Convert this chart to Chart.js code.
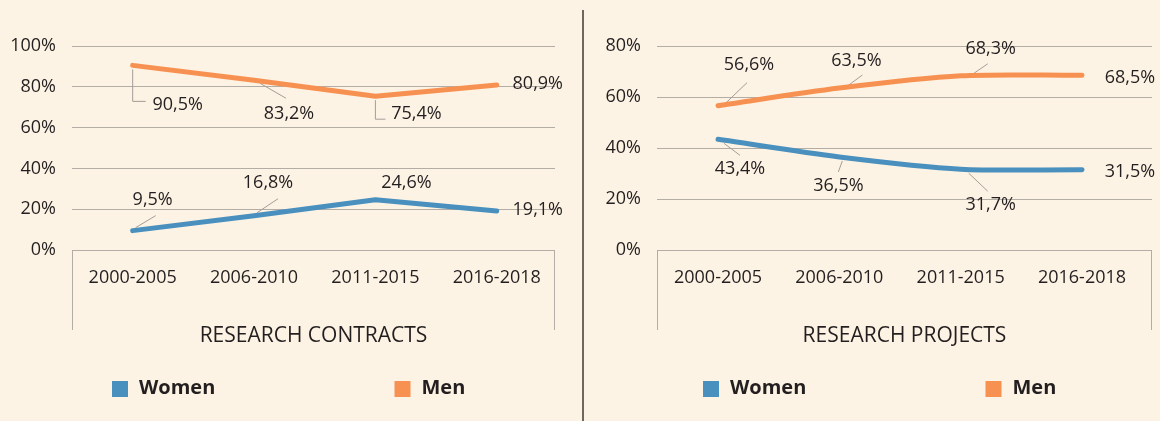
<!DOCTYPE html>
<html>
<head>
<meta charset="utf-8">
<script src="https://cdn.jsdelivr.net/npm/chart.js@4.4.1/dist/chart.umd.min.js"></script>
<style>
  html, body { margin:0; padding:0; background:#fdf3e4; overflow:hidden; }
  .wrap { position:absolute; top:0; width:580px; height:421px; }
  #boxLeft { left:0; }
  #boxRight { left:580px; }
  .sep { position:absolute; left:582px; top:10px; width:2px; height:411px; background:#6e665f; }
</style>
</head>
<body>
<div class="wrap" id="boxLeft"><canvas id="chartContracts"></canvas></div>
<div class="sep"></div>
<div class="wrap" id="boxRight"><canvas id="chartProjects"></canvas></div>
<script>
// Datos
const periods = ['2000-2005', '2006-2010', '2011-2015', '2016-2018'];
const seriesNames = ['Women', 'Men'];
const contractsWomen = [9.5, 16.8, 24.6, 19.1];
const contractsMen = [90.5, 83.2, 75.4, 80.9];
const projectsWomen = [43.4, 36.5, 31.7, 31.5];
const projectsMen = [56.6, 63.5, 68.3, 68.5];
const contractsTicks = [0, 20, 40, 60, 80, 100];
const projectsTicks = [0, 20, 40, 60, 80];

const BLUE = '#4a90be';
const ORANGE = '#f79152';
const INK = '#231f20';
const GRID = '#b4ada6';
const FONT = '"Open Sans", "Noto Sans", sans-serif';

// posición de las etiquetas respecto al punto (y líneas guía)
const contractsPlaces = [
  [ {dx:20, dy:-31, lead:[[3,-3],[23,-15]]}, {dx:14, dy:-33, lead:[[3,-3],[24,-17]]}, {dx:31, dy:-17}, {dx:41, dy:-1} ],
  [ {dx:45, dy:39, lead:[[0,4],[0,36],[13,36]]}, {dx:35, dy:34, lead:[[6,3],[32,18]]}, {dx:41, dy:18, lead:[[0,4],[0,23],[10,23]]}, {dx:41, dy:-1} ]
];
const projectsPlaces = [
  [ {dx:22, dy:30, lead:[[6,4],[22,16]]}, {dx:-1, dy:29, lead:[[3,4],[-1,15]]}, {dx:30, dy:36, lead:[[8,4],[27,22]]}, {dx:48, dy:2} ],
  [ {dx:31, dy:-41, lead:[[5,0],[29,-23]]}, {dx:17, dy:-27, lead:[[8,-2],[23,-13]]}, {dx:30, dy:-27, lead:[[11,-1],[27,-12]]}, {dx:48, dy:3} ]
];

const fmt = v => v.toFixed(1).replace('.', ',') + '%';

const labelPlugin = {
  id: 'valueLabels',
  beforeDatasetsDraw(chart, args, opts) {
    const ctx = chart.ctx;
    ctx.save();
    ctx.strokeStyle = '#a39d97';
    ctx.lineWidth = 1;
    chart.data.datasets.forEach((ds, di) => {
      chart.getDatasetMeta(di).data.forEach((pt, i) => {
        const p = opts.places[di][i];
        if (!p.lead) return;
        ctx.beginPath();
        p.lead.forEach(([lx, ly], k) => {
          if (k === 0) ctx.moveTo(pt.x + lx, pt.y + ly);
          else ctx.lineTo(pt.x + lx, pt.y + ly);
        });
        ctx.stroke();
      });
    });
    ctx.restore();
  },
  afterDatasetsDraw(chart, args, opts) {
    const ctx = chart.ctx;
    ctx.save();
    ctx.font = '18px ' + FONT;
    ctx.fillStyle = INK;
    ctx.textAlign = 'center';
    ctx.textBaseline = 'middle';
    chart.data.datasets.forEach((ds, di) => {
      chart.getDatasetMeta(di).data.forEach((pt, i) => {
        const p = opts.places[di][i];
        ctx.fillText(fmt(ds.data[i].y), pt.x + p.dx, pt.y + p.dy);
      });
    });
    ctx.restore();
  }
};

// caja del eje X y leyenda
const framePlugin = {
  id: 'frameLegend',
  afterDraw(chart) {
    const ctx = chart.ctx;
    const a = chart.chartArea;
    ctx.save();
    ctx.strokeStyle = GRID;
    ctx.lineWidth = 1;
    ctx.beginPath();
    ctx.moveTo(Math.round(a.left) + 0.5, a.bottom);
    ctx.lineTo(Math.round(a.left) + 0.5, a.bottom + 80);
    ctx.moveTo(Math.round(a.right) - 0.5, a.bottom);
    ctx.lineTo(Math.round(a.right) - 0.5, a.bottom + 80);
    ctx.stroke();

    const mid = (a.left + a.right) / 2;
    const offs = [-201.5, 81];
    ctx.font = 'bold 20px ' + FONT;
    ctx.textBaseline = 'middle';
    ctx.textAlign = 'left';
    chart.data.datasets.forEach((ds, i) => {
      const x = mid + offs[i];
      ctx.fillStyle = ds.borderColor;
      ctx.fillRect(x, 381, 16, 16);
      ctx.fillStyle = INK;
      ctx.fillText(ds.label, x + 27, 388);
    });
    ctx.restore();
  }
};

function makeChart(id, women, men, yTicks, yMax, xMin, xMax, yWidth, rightPad, title, tension, places) {
  const pts = arr => arr.map((v, i) => ({x: i, y: v}));
  return new Chart(document.getElementById(id), {
    type: 'line',
    data: {
      datasets: [
        {label: seriesNames[0], data: pts(women), borderColor: BLUE, backgroundColor: BLUE},
        {label: seriesNames[1], data: pts(men), borderColor: ORANGE, backgroundColor: ORANGE}
      ]
    },
    options: {
      responsive: true,
      maintainAspectRatio: false,
      animation: false,
      layout: { padding: { top: 46, right: rightPad, left: 0, bottom: 0 } },
      elements: {
        line: { borderWidth: 5, tension: tension, borderCapStyle: 'round', borderJoinStyle: 'round' },
        point: { radius: 0, hoverRadius: 0 }
      },
      plugins: {
        legend: { display: false },
        tooltip: { enabled: false },
        valueLabels: { places: places }
      },
      scales: {
        x: {
          type: 'linear',
          min: xMin,
          max: xMax,
          grid: { display: false, drawTicks: false },
          border: { display: false },
          ticks: {
            stepSize: 1,
            includeBounds: false,
            autoSkip: false,
            maxRotation: 0,
            padding: 17,
            color: INK,
            font: { family: FONT, size: 18 },
            callback: v => Number.isInteger(v) ? periods[v] : ''
          },
          title: {
            display: true,
            text: title,
            color: INK,
            font: { family: FONT, size: 21 },
            padding: { top: 0, bottom: 72 }
          },
          afterFit: s => { s.height = 171; }
        },
        y: {
          min: 0,
          max: yMax,
          grid: { color: GRID, lineWidth: 1, drawTicks: false },
          border: { display: false },
          afterBuildTicks: s => { s.ticks = yTicks.map(v => ({value: v})); },
          ticks: {
            padding: 16,
            color: INK,
            font: { family: FONT, size: 18 },
            callback: v => v + '%'
          },
          afterFit: s => { s.width = yWidth; }
        }
      }
    },
    plugins: [labelPlugin, framePlugin]
  });
}

makeChart('chartContracts', contractsWomen, contractsMen, contractsTicks, 100,
  -0.5, 3.48, 72, 25, 'RESEARCH CONTRACTS', 0, contractsPlaces);
makeChart('chartProjects', projectsWomen, projectsMen, projectsTicks, 80,
  -0.503, 3.577, 77, 8, 'RESEARCH PROJECTS', 0.3, projectsPlaces);
</script>
</body>
</html>
